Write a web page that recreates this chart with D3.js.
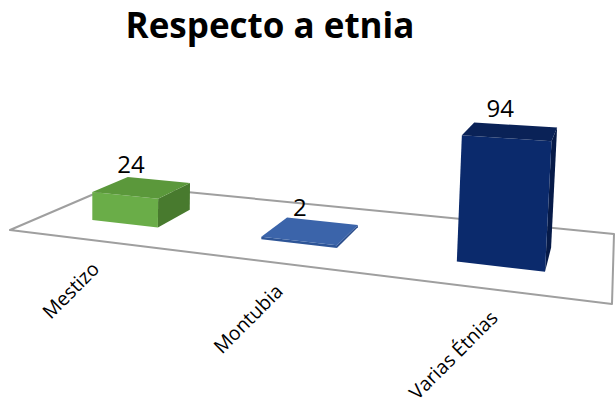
<!DOCTYPE html>
<html>
<head>
<meta charset="utf-8">
<script src="https://cdn.jsdelivr.net/npm/d3@7"></script>
<style>
  html, body { margin: 0; padding: 0; background: #ffffff; }
  svg { display: block; }
</style>
</head>
<body>
<svg id="chart" width="616" height="408"></svg>
<script>
// ---- data ----
const categories = ["Mestizo", "Montubia", "Varias Étnias"];
const values = [24, 2, 94];
const chartTitle = "Respecto a etnia";

// ---- style ----
const palette = [
  { front: "#6aad48", top: "#5b983b", side: "#487a2e" },
  { front: "#2e5597", top: "#3b64aa", side: "#2a4d8c" },
  { front: "#0b2a6c", top: "#0a2257", side: "#061a48" }
];

const W = 616, H = 408;
const svg = d3.select("#chart");

// ---- perspective floor (homography unit square -> quad) ----
const FL = [10, 230], FR = [612, 304], BR = [614, 234], BL = [115, 185];
function homography(p0, p1, p2, p3) {
  const [x0, y0] = p0, [x1, y1] = p1, [x2, y2] = p2, [x3, y3] = p3;
  const dx1 = x1 - x2, dx2 = x3 - x2, dx3 = x0 - x1 + x2 - x3;
  const dy1 = y1 - y2, dy2 = y3 - y2, dy3 = y0 - y1 + y2 - y3;
  const den = dx1 * dy2 - dx2 * dy1;
  const g = (dx3 * dy2 - dx2 * dy3) / den;
  const h = (dx1 * dy3 - dx3 * dy1) / den;
  const a = x1 - x0 + g * x1, b = x3 - x0 + h * x3, c = x0;
  const d = y1 - y0 + g * y1, e = y3 - y0 + h * y3, f = y0;
  return (u, v) => {
    const w = g * u + h * v + 1;
    return { x: (a * u + b * v + c) / w, y: (d * u + e * v + f) / w, w };
  };
}
const floorMap = homography(FL, FR, BR, BL);

// vertical vanishing point (far below) for slight lean of vertical edges
const VVP = [92, 9400];

// ---- scales ----
const uScale = d3.scaleBand()
  .domain(categories)
  .range([0.0013, 1.0013])
  .paddingInner(0.595)
  .paddingOuter(0.2975);
const hScale = d3.scaleLinear().domain([0, 100]).range([0, 121]);
const depth = [0.30, 0.66];

function lift(u, v, val) {
  const p = floorMap(u, v);
  const len = hScale(val) / p.w;
  let dx = p.x - VVP[0], dy = p.y - VVP[1];
  const n = Math.hypot(dx, dy);
  dx /= n; dy /= n;
  return [p.x + dx * len, p.y + dy * len];
}
function base(u, v) { const p = floorMap(u, v); return [p.x, p.y]; }

// ---- floor ----
svg.append("polygon")
  .attr("points", [FL, FR, BR, BL].map(p => p.join(",")).join(" "))
  .attr("fill", "#ffffff")
  .attr("stroke", "#9f9f9f")
  .attr("stroke-width", 2)
  .attr("stroke-linejoin", "round");

// ---- bars ----
const line = d3.line();
const bars = svg.append("g");
categories.forEach((cat, i) => {
  const val = values[i];
  const u0 = uScale(cat), u1 = u0 + uScale.bandwidth();
  const [v0, v1] = depth;
  const fbl = base(u0, v0), fbr = base(u1, v0), bbr = base(u1, v1);
  const ftl = lift(u0, v0, val), ftr = lift(u1, v0, val);
  const btr = lift(u1, v1, val), btl = lift(u0, v1, val);
  const col = palette[i];
  const g = bars.append("g");
  g.append("path").attr("d", line([fbr, bbr, btr, ftr]) + "Z").attr("fill", col.side);
  g.append("path").attr("d", line([fbl, fbr, ftr, ftl]) + "Z").attr("fill", col.front);
  g.append("path").attr("d", line([ftl, ftr, btr, btl]) + "Z").attr("fill", col.top);

  const cx = (ftl[0] + ftr[0] + btr[0] + btl[0]) / 4;
  const cy = (ftl[1] + ftr[1] + btr[1] + btl[1]) / 4;
  svg.append("text")
    .attr("x", cx - 11).attr("y", cy - 15)
    .attr("text-anchor", "middle")
    .attr("font-family", "'Open Sans', sans-serif")
    .attr("font-size", 24)
    .attr("fill", "#000")
    .text(val);

  const fp = floorMap(uScale(cat) + uScale.bandwidth() / 2, 0);
  const lx = fp.x + 8, ly = fp.y + 30;
  svg.append("text")
    .attr("transform", `translate(${lx},${ly}) rotate(-45)`)
    .attr("text-anchor", "end")
    .attr("font-family", "'Open Sans', sans-serif")
    .attr("font-size", 19.5)
    .attr("fill", "#000")
    .text(cat);
});

// ---- title ----
svg.append("text")
  .attr("x", 270).attr("y", 38)
  .attr("text-anchor", "middle")
  .attr("font-family", "'Open Sans', sans-serif")
  .attr("font-weight", "bold")
  .attr("font-size", 35)
  .attr("fill", "#000")
  .text(chartTitle);
</script>
</body>
</html>
